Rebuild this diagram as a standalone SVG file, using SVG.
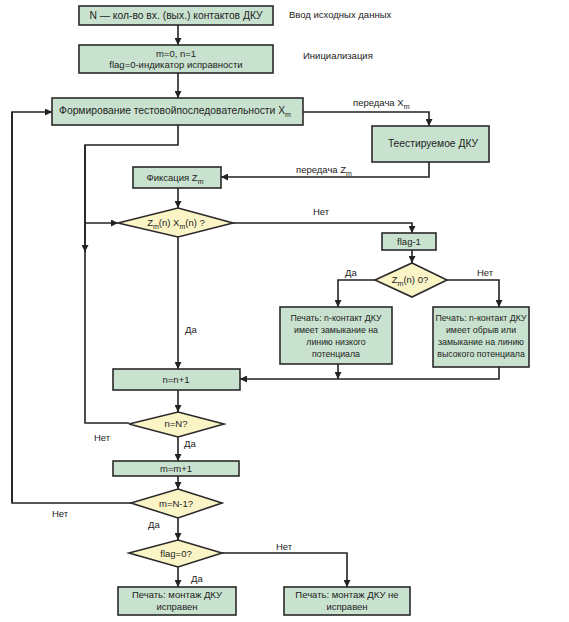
<svg xmlns="http://www.w3.org/2000/svg" width="569" height="622" viewBox="0 0 569 622">
<defs>
<marker id="ah" viewBox="0 0 10 10" refX="10" refY="5" markerWidth="7" markerHeight="7" markerUnits="userSpaceOnUse" orient="auto">
<path d="M0,0 L10,5 L0,10 z" fill="#222"/>
</marker>
<style>
.box{fill:#c9e2cf;stroke:#2a2a2a;stroke-width:1.6}
.dia{fill:#fbf4c6;stroke:#2a2a2a;stroke-width:1.6}
.ln{fill:none;stroke:#222;stroke-width:1.6}
.arr{fill:none;stroke:#222;stroke-width:1.6;marker-end:url(#ah)}
text{font-family:"Liberation Sans",Arial,sans-serif;font-size:9.5px;fill:#222;text-anchor:middle}
.lbl{text-anchor:start}
.sub{font-size:7px}
.sm{font-size:8.8px}
.big{font-size:10.3px}
</style>
</defs>
<rect width="569" height="622" fill="#fff"/>
<g id="connectors">
<path class="arr" d="M178,25 V45"/>
<path class="arr" d="M178,73 V98"/>
<path class="arr" d="M12,502 H12 V112 H52"/>
<path class="arr" d="M303,112 H429 V126"/>
<path class="arr" d="M429,162 V177 H221"/>
<path class="ln" d="M178,125 V145 H85 V423 H129"/>
<path class="arr" d="M85,145 V252"/>
<path class="arr" d="M85,223 H118"/>
<path class="arr" d="M178,188 V208"/>
<path class="arr" d="M233,223 H412 V233"/>
<path class="arr" d="M412,250 V263"/>
<path class="arr" d="M375,280 H338 V307"/>
<path class="arr" d="M447,280 H499 V307"/>
<path class="arr" d="M338,364 V379"/>
<path class="arr" d="M499,367 V379 H240"/>
<path class="arr" d="M178,237 V369"/>
<path class="arr" d="M178,390 V412"/>
<path class="arr" d="M178,437 V461"/>
<path class="arr" d="M178,476 V489"/>
<path class="ln" d="M131,503 H12 V112"/>
<path class="arr" d="M178,518 V540"/>
<path class="arr" d="M178,567 V587"/>
<path class="arr" d="M222,553 H347 V587"/>
<text class="lbl" x="353" y="106">передача X<tspan class="sub" dy="3">m</tspan></text>
<text class="lbl" x="296" y="173">передача Z<tspan class="sub" dy="3">m</tspan></text>
<text class="lbl" x="313" y="215">Нет</text>
<text class="lbl" x="345" y="276">Да</text>
<text class="lbl" x="477" y="276">Нет</text>
<text class="lbl" x="185" y="333">Да</text>
<text class="lbl" x="94" y="441">Нет</text>
<text class="lbl" x="184" y="447">Да</text>
<text class="lbl" x="52" y="517">Нет</text>
<text class="lbl" x="148" y="528">Да</text>
<text class="lbl" x="276" y="550">Нет</text>
<text class="lbl" x="191" y="582">Да</text>
<text class="lbl" x="289" y="18">Ввод исходных данных</text>
<text class="lbl" x="303" y="59">Инициализация</text>
</g>
<g id="n1"><rect class="box" x="79" y="6" width="194" height="19"/><text class="big" x="176" y="19">N — кол-во вх. (вых.) контактов ДКУ</text></g>
<g id="n2"><rect class="box" x="79" y="45" width="194" height="28"/><text x="176" y="57">m=0, n=1</text><text x="176" y="68">flag=0-индикатор исправности</text></g>
<g id="n3"><rect class="box" x="52" y="98" width="251" height="27"/><text class="big" x="175" y="114">Формирование тестовойпоследовательности X<tspan class="sub" dy="3">m</tspan></text></g>
<g id="n4"><rect class="box" x="372" y="126" width="117" height="36"/><text class="big" x="433" y="147">Теестируемое ДКУ</text></g>
<g id="n5"><rect class="box" x="133" y="167" width="88" height="21"/><text x="175" y="181">Фиксация Z<tspan class="sub" dy="3">m</tspan></text></g>
<g id="d1"><polygon class="dia" points="178,208 233,223 178,237 118,223"/><text x="176" y="226">Z<tspan class="sub" dy="3">m</tspan><tspan dy="-3">(n)  X</tspan><tspan class="sub" dy="3">m</tspan><tspan dy="-3">(n) ?</tspan></text></g>
<g id="n6"><rect class="box" x="382" y="233" width="54" height="17"/><text x="409" y="245">flag-1</text></g>
<g id="d2"><polygon class="dia" points="412,263 447,280 412,297 375,280"/><text x="410" y="283">Z<tspan class="sub" dy="3">m</tspan><tspan dy="-3">(n) 0?</tspan></text></g>
<g id="n7"><rect class="box" x="280" y="307" width="112" height="57"/><text class="sm" x="336" y="321">Печать: n-контакт ДКУ</text><text class="sm" x="336" y="333">имеет замыкание на</text><text class="sm" x="336" y="345">линию низкого</text><text class="sm" x="336" y="357">потенциала</text></g>
<g id="n8"><rect class="box" x="433" y="307" width="96" height="60"/><text class="sm" x="481" y="321">Печать: n-контакт ДКУ</text><text class="sm" x="481" y="333">имеет обрыв или</text><text class="sm" x="481" y="345">замыкание на линию</text><text class="sm" x="481" y="357">высокого потенциала</text></g>
<g id="n9"><rect class="box" x="113" y="369" width="127" height="21"/><text x="176" y="383">n=n+1</text></g>
<g id="d3"><polygon class="dia" points="178,412 224,424 178,437 129,424"/><text x="176" y="427">n=N?</text></g>
<g id="n10"><rect class="box" x="113" y="461" width="126" height="15"/><text x="176" y="472">m=m+1</text></g>
<g id="d4"><polygon class="dia" points="178,489 222,503 178,518 131,503"/><text x="176" y="507">m=N-1?</text></g>
<g id="d5"><polygon class="dia" points="178,540 222,553 178,567 129,553"/><text x="176" y="557">flag=0?</text></g>
<g id="n11"><rect class="box" x="118" y="587" width="118" height="28"/><text x="177" y="598">Печать: монтаж ДКУ</text><text x="177" y="610">исправен</text></g>
<g id="n12"><rect class="box" x="284" y="587" width="126" height="28"/><text x="347" y="598">Печать: монтаж ДКУ не</text><text x="347" y="610">исправен</text></g>
</svg>
